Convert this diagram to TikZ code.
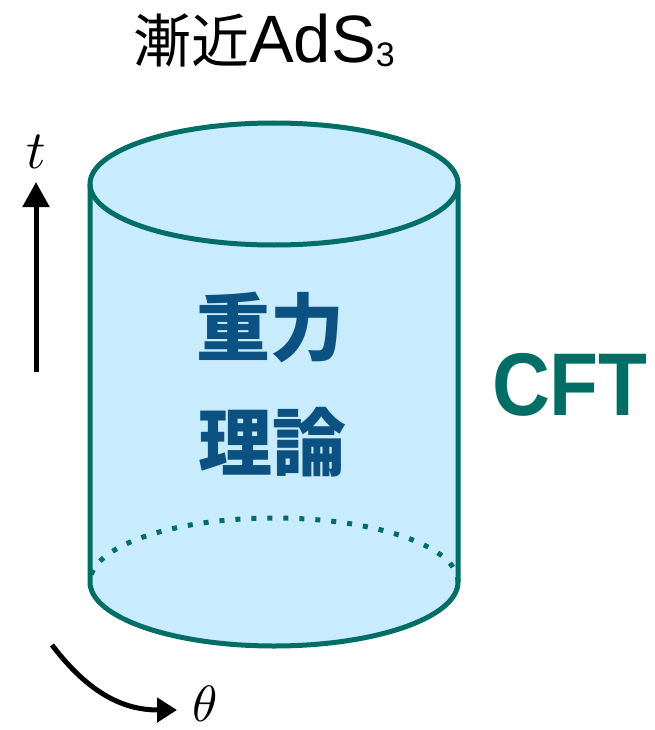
\documentclass[tikz,border=0pt]{standalone}
\usepackage{fontspec}
\setmainfont{Liberation Sans}
\newfontfamily\cjk{Noto Sans CJK JP}
\usetikzlibrary{arrows.meta}
\definecolor{cylline}{HTML}{006E64}
\definecolor{cylfill}{HTML}{C8EBFD}
\definecolor{gravblue}{HTML}{0B5282}
\tikzset{
  cyl/.style={draw=cylline, line width=5pt},
  grav/.style={inner sep=0pt, text=gravblue, font=\cjk\bfseries\fontsize{74}{74}\selectfont},
  axisarrow/.style={line width=5pt, black},
  mathlab/.style={inner sep=0pt},
}
\begin{document}
\begin{tikzpicture}[x=1pt,y=-1pt]
\useasboundingbox (0,0) rectangle (654,730);
% cylinder
\fill[cylfill] (90,184) -- (90,582) arc[start angle=180,end angle=0,x radius=184,y radius=64]
  -- (458,184) arc[start angle=0,end angle=-180,x radius=184,y radius=61] -- cycle;
\draw[cyl, dash pattern=on 5pt off 11pt] (458,582) arc[start angle=0,end angle=-180,x radius=184,y radius=64];
\draw[cyl] (90,184) -- (90,582) arc[start angle=180,end angle=0,x radius=184,y radius=64] -- (458,184);
\draw[cyl] (274,184) ellipse[x radius=184,y radius=61];
% texts
\node[anchor=base, inner sep=0pt] (title) at (264,63)
  {{\cjk\fontsize{58}{58}\selectfont 漸近}{\fontsize{67}{67}\selectfont AdS}\raisebox{-4pt}{\fontsize{34}{34}\selectfont 3}};
\node[grav] (g1) at (270,328) {重力};
\node[grav] (g2) at (272,442) {理論};
\node[inner sep=0pt, text=cylline, font=\bfseries\fontsize{89}{89}\selectfont] (cft) at (570,385) {\scalebox{0.9}[1]{CFT}};
\node[mathlab] (tlab) at (36,152) {\scalebox{5.4}{$t$}};
\node[mathlab] (thlab) at (205,704) {\scalebox{5.1}{$\theta$}};
% arrows
\coordinate (tb) at (36,372);
\coordinate (tt) at (36,182);
\draw[axisarrow, -{Triangle[length=25pt,width=26pt]}] (tb) -- (tt);
\coordinate (cs) at (52,645);
\coordinate (ce) at (177,710);
\draw[axisarrow, -{Triangle[length=20pt,width=24pt]}] (cs) .. controls (90,695) and (125,710) .. (ce);
\end{tikzpicture}
\end{document}
